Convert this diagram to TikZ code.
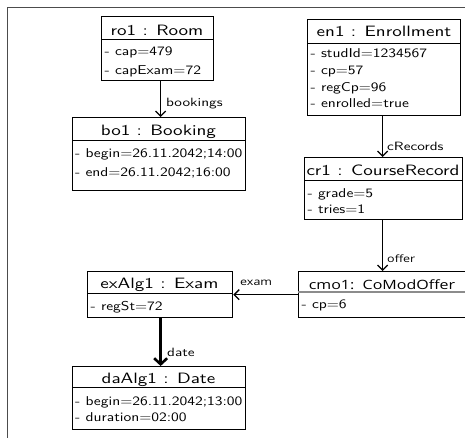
\documentclass[tikz,border=0pt]{standalone}
\usepackage{fontspec}
\usetikzlibrary{arrows.meta}
% widened faces used throughout the object diagram
\newfontfamily\lmsw[FakeStretch=1.27]{lmsans10-regular.otf}
\newfontfamily\lmsa[FakeStretch=1.21]{lmsans10-regular.otf}
\newfontfamily\uiw[FakeStretch=1.25]{Open Sans}

\tikzset{
  frameline/.style={draw=black!70, line width=0.9pt},
  obj/.style={draw, line width=1.3pt, inner sep=0pt, anchor=north west},
  sepline/.style={line width=1pt},
  sepgray/.style={draw=black!45, line width=1.6pt},
  ttl/.style={inner sep=0pt, anchor=base, font=\lmsw\fontsize{15}{17}\selectfont},
  ttlui/.style={inner sep=0pt, anchor=base, font=\uiw\fontsize{12.8}{15}\selectfont},
  att/.style={inner sep=0pt, anchor=base west, font=\lmsa\fontsize{12.8}{14}\selectfont},
  lbl/.style={inner sep=0pt, anchor=base west, font=\lmsw\fontsize{12}{14}\selectfont},
  lblui/.style={inner sep=0pt, anchor=base west, font=\uiw\fontsize{10}{12}\selectfont},
  assoc/.style={line width=1.3pt, -{Straight Barb[length=5pt,width=10pt]}},
  assocbold/.style={line width=2.6pt, -{Straight Barb[length=6pt,width=13pt]}},
}

\begin{document}
\begin{tikzpicture}[x=1pt,y=-1pt]
\useasboundingbox (0,0) rectangle (465,437);

% frame of the diagram
\draw[frameline] (7,445) -- (7,7) -- (475,7);

% ro1 : Room
\node[obj, minimum width=112pt, minimum height=64pt] (ro1) at (101,16) {};
\draw[sepline] (ro1.west |- 0,39) -- (ro1.east |- 0,39);
\node[ttl] (ro1t) at (157,35) {ro1 : Room};
\node[att] (ro1a) at (104.5,55) {- cap=479};
\node[att] (ro1b) at (104.5,74) {- capExam=72};

% bo1 : Booking
\node[obj, minimum width=173pt, minimum height=73pt] (bo1) at (72,117) {};
\draw[sepline] (bo1.west |- 0,140) -- (bo1.east |- 0,140);
\node[ttl] (bo1t) at (158.5,135) {bo1 : Booking};
\node[att] (bo1a) at (75,157) {- begin=26.11.2042;14:00};
\node[att] (bo1b) at (75,176) {- end=26.11.2042;16:00};

% en1 : Enrollment
\node[obj, minimum width=153pt, minimum height=96pt] (en1) at (307,19) {};
\draw[sepline] (en1.west |- 0,43) -- (en1.east |- 0,43);
\node[ttl] (en1t) at (384,36) {en1 : Enrollment};
\node[att] (en1a) at (310.5,57) {- studId=1234567};
\node[att] (en1b) at (310.5,74) {- cp=57};
\node[att] (en1c) at (310.5,91) {- regCp=96};
\node[att] (en1d) at (310.5,107.5) {- enrolled=true};

% cr1 : CourseRecord
\node[obj, minimum width=158pt, minimum height=62pt] (cr1) at (304,157) {};
\draw[sepline] (cr1.west |- 0,180) -- (cr1.east |- 0,180);
\node[ttl] (cr1t) at (383,175.5) {cr1 : CourseRecord};
\node[att] (cr1a) at (307.5,197) {- grade=5};
\node[att] (cr1b) at (307.5,213) {- tries=1};

% exAlg1 : Exam
\node[obj, minimum width=145pt, minimum height=46pt] (ex) at (87,271) {};
\draw[sepline] (ex.west |- 0,293) -- (ex.east |- 0,293);
\node[ttl] (ext) at (159.5,288) {exAlg1 : Exam};
\node[att] (exa) at (90.5,310) {- regSt=72};

% daAlg1 : Date
\node[obj, minimum width=173pt, minimum height=63pt] (da) at (72,366) {};
\draw[sepline] (da.west |- 0,387) -- (da.east |- 0,387);
\node[ttl] (dat) at (158.5,383) {daAlg1 : Date};
\node[att] (daa) at (75,405) {- begin=26.11.2042;13:00};
\node[att] (dab) at (75,421.5) {- duration=02:00};

% cmo1 : CoModOffer
\node[obj, minimum width=168pt, minimum height=46pt] (cmo) at (298,271) {};
\draw[sepgray] (cmo.west |- 0,292) -- (cmo.east |- 0,292);
\node[ttlui] (cmot) at (382,289.5) {cmo1:\ \ CoModOffer};
\node[att] (cmoa) at (301.5,308) {- cp=6};

% links
\draw[assoc] ([xshift=3pt]ro1.south) -- ([xshift=3pt]ro1.south |- bo1.north);
\node[lbl] (l1) at (166,106) {bookings};
\draw[assoc] ([xshift=-1.5pt]en1.south) -- ([xshift=-1.5pt]en1.south |- cr1.north);
\node[lbl] (l2) at (387,150) {cRecords};
\draw[assoc] ([xshift=-1pt]cr1.south) -- ([xshift=-1pt]cr1.south |- cmo.north);
\node[lblui] (l3) at (387,262.5) {offer};
\draw[assoc] (cmo.west) -- (cmo.west -| ex.east);
\node[lblui] (l4) at (240,285.5) {exam};
\draw[assocbold] ([xshift=0.5pt]ex.south) -- ([xshift=0.5pt]ex.south |- da.north);
\node[lbl] (l5) at (167,356.5) {date};
\end{tikzpicture}
\end{document}
